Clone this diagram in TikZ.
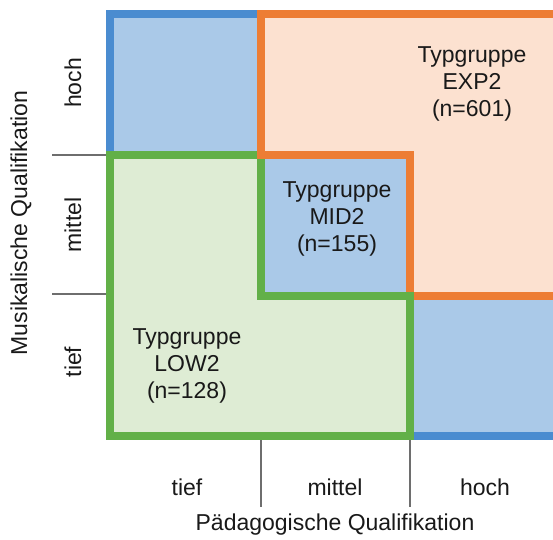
\documentclass[tikz,border=0pt]{standalone}
\usepackage{fontspec}
\setmainfont{Liberation Sans}
\definecolor{blueB}{RGB}{74,140,208}
\definecolor{blueF}{RGB}{170,201,232}
\definecolor{orangeB}{RGB}{237,125,52}
\definecolor{orangeF}{RGB}{252,225,208}
\definecolor{greenB}{RGB}{98,176,72}
\definecolor{greenF}{RGB}{222,236,212}
\definecolor{tickC}{RGB}{110,110,110}
\begin{document}
\begin{tikzpicture}[x=1pt,y=-1pt,
  border/.style={line width=8.5pt,line join=miter},
  lbl/.style={font=\fontsize{23}{27}\selectfont,text=black!90,align=center,inner sep=0pt},
  tickline/.style={draw=tickC,line width=1.3pt}]
\useasboundingbox (0,0) rectangle (553,539);
\clip (0,0) rectangle (553,539);
% coordinates
\coordinate (c00) at (110,14);
\coordinate (c33) at (562,436);
% blue outer
\filldraw[fill=blueF,draw=blueB,border] (c00) rectangle (c33);
% orange region fill
\fill[orangeF] (261,14) -- (562,14) -- (562,296) -- (410,296) -- (410,155) -- (261,155) -- cycle;
% green region
\filldraw[fill=greenF,draw=greenB,border] (110,155) -- (261,155) -- (261,296) -- (410,296) -- (410,436) -- (110,436) -- cycle;
% orange border
\draw[draw=orangeB,border] (261,155) -- (261,14) -- (570,14) -- (570,296) -- (410,296) -- (410,155) -- cycle;
% green corner on top
\draw[draw=greenB,border] (261,296) -- (410,296) -- (410,436);
% ticks
\coordinate (tl1) at (52,155);
\coordinate (tl1e) at (106,155);
\coordinate (tl2) at (52,294);
\coordinate (tl2e) at (106,294);
\coordinate (tb1) at (261,440);
\coordinate (tb1e) at (261,507);
\coordinate (tb2) at (410,440);
\coordinate (tb2e) at (410,507);
\draw[tickline] (tl1) -- (tl1e);
\draw[tickline] (tl2) -- (tl2e);
\draw[tickline] (tb1) -- (tb1e);
\draw[tickline] (tb2) -- (tb2e);
% group labels
\node[lbl] (exp) at (472,84) {Typgruppe\\EXP2\\(n=601)};
\node[lbl] (mid) at (337,219) {Typgruppe\\MID2\\(n=155)};
\node[lbl] (low) at (187,366) {Typgruppe\\LOW2\\(n=128)};
% left axis
\node[lbl,rotate=90] (yh) at (73,83) {hoch};
\node[lbl,rotate=90] (ym) at (73,225) {mittel};
\node[lbl,rotate=90] (yt) at (73,362) {tief};
\node[lbl,rotate=90] (ytitle) at (21,223) {Musikalische Qualifikation};
% bottom axis
\node[lbl] (xt) at (187,487) {tief};
\node[lbl] (xm) at (335,487) {mittel};
\node[lbl] (xh) at (485,487) {hoch};
\node[lbl] (xtitle) at (335,525) {Pädagogische Qualifikation};
\end{tikzpicture}
\end{document}
